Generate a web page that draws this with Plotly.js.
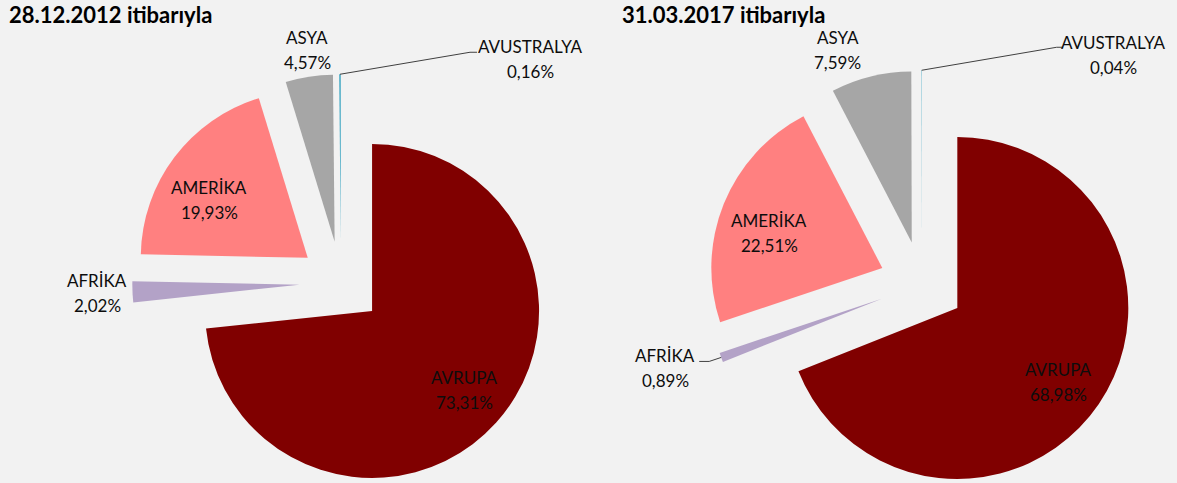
<!DOCTYPE html>
<html>
<head>
<meta charset="utf-8">
<script src="https://cdn.plot.ly/plotly-3.0.1.min.js"></script>
<style>
html, body { margin: 0; padding: 0; background: #f2f2f2; overflow: hidden; width: 1177px; height: 483px; }
#chart { width: 1177px; height: 500px; }
</style>
</head>
<body>
<div id="chart"></div>
<script>
// ---------- Data ----------
var regions = ["AVRUPA", "AFRİKA", "AMERİKA", "ASYA", "AVUSTRALYA"];
var share2012 = [73.31, 2.02, 19.93, 4.57, 0.16];
var share2017 = [68.98, 0.89, 22.51, 7.59, 0.04];
var titles = ["28.12.2012 itibarıyla", "31.03.2017 itibarıyla"];

// ---------- Styles / layout ----------
var sliceColors = ["#800000", "#b3a2c7", "#ff8080", "#a6a6a6", "#4bacc6"];
var FONT = "Lato, 'Open Sans', sans-serif";
var W = 1177, H = 500, PULL = 0.25;
var domains = [
  { x: [0.1124, 0.4671], y: [0.0165, 0.8515] },
  { x: [0.6017, 0.9649], y: [0.0045, 0.8595] }
];
var titlePos = [[7, 14], [620, 14]];
// label placement: kind ('in' = from pulled apex at INSIDE_K*r, 'out' = from outer arc point) + pixel offset
var INSIDE_K = 0.74;
var labelPlace = [
  [["in", 1, -4], ["out", -35, 1], ["in", 0, 17], ["out", -2, -27], ["out", 191, -15]],
  [["in", -4, 3], ["out", -56, 11], ["in", 4, 12], ["out", -33, -26], ["out", 192, -15]]
];
// leader lines (pixel offsets from the outer arc point of the slice), null = none
var leaders = [
  [null, null, null, null, [[130, -22], [137, -22]]],
  [null, [[-12, 4], [-22, 4]], null, null, [[135, -23], [141, -23]]]
];
var LINE_GAP = 12.5;

function fmt(v) { return v.toFixed(2).replace(".", ",") + "%"; }
function px2x(p) { return p / W; }
function py2y(p) { return 1 - p / H; }

var allShares = [share2012, share2017];
var data = [];
var annotations = [];
var shapes = [];

allShares.forEach(function (vals, k) {
  var dom = domains[k];
  data.push({
    type: "pie",
    labels: regions,
    values: vals,
    sort: false,
    direction: "clockwise",
    rotation: 0,
    pull: PULL,
    marker: { colors: sliceColors, line: { width: 0 } },
    textinfo: "none",
    hoverinfo: "none",
    showlegend: false,
    domain: dom
  });

  // geometry of the pie as Plotly lays it out
  var bw = W * (dom.x[1] - dom.x[0]), bh = H * (dom.y[1] - dom.y[0]);
  var r = Math.min(bw, bh) / 2 / (1 + PULL);
  var cx = W * (dom.x[0] + dom.x[1]) / 2;
  var cy = H * (1 - (dom.y[0] + dom.y[1]) / 2);
  var total = vals.reduce(function (a, b) { return a + b; }, 0);
  var cum = 0;
  vals.forEach(function (v, i) {
    var th = 2 * Math.PI * (cum + v / 2) / total;
    cum += v;
    var dx = Math.sin(th), dy = -Math.cos(th);
    var ax = cx + PULL * r * dx, ay = cy + PULL * r * dy;   // pulled apex
    var ox = ax + r * dx, oy = ay + r * dy;                 // outer arc point
    var pl = labelPlace[k][i];
    var bx, by;
    if (pl[0] === "in") { bx = ax + INSIDE_K * r * dx; by = ay + INSIDE_K * r * dy; }
    else { bx = ox; by = oy; }
    var lx = bx + pl[1], ly = by + pl[2];
    [[regions[i], -LINE_GAP], [fmt(v), LINE_GAP]].forEach(function (t) {
      annotations.push({
        text: t[0], xref: "paper", yref: "paper",
        x: px2x(lx), y: py2y(ly + t[1]), xanchor: "center", yanchor: "middle",
        showarrow: false, font: { family: FONT, size: 17, color: "#0d0d0d" }
      });
    });
    var ld = leaders[k][i];
    if (ld) {
      var path = "M" + px2x(ox) + "," + py2y(oy);
      ld.forEach(function (p) { path += " L" + px2x(ox + p[0]) + "," + py2y(oy + p[1]); });
      shapes.push({ type: "path", xref: "paper", yref: "paper", path: path,
        line: { color: "#404040", width: 1 } });
    }
  });

  annotations.push({
    text: "<b>" + titles[k] + "</b>", xref: "paper", yref: "paper",
    x: px2x(titlePos[k][0]), y: py2y(titlePos[k][1]), xanchor: "left", yanchor: "middle",
    showarrow: false, font: { family: FONT, size: 22, color: "#000" }
  });
});

var layout = {
  width: W,
  height: H,
  margin: { l: 0, r: 0, t: 0, b: 0 },
  paper_bgcolor: "#f2f2f2",
  plot_bgcolor: "#f2f2f2",
  showlegend: false,
  font: { family: FONT, color: "#0d0d0d" },
  annotations: annotations,
  shapes: shapes
};

Plotly.newPlot("chart", data, layout, { displayModeBar: false, staticPlot: true });
</script>
</body>
</html>
